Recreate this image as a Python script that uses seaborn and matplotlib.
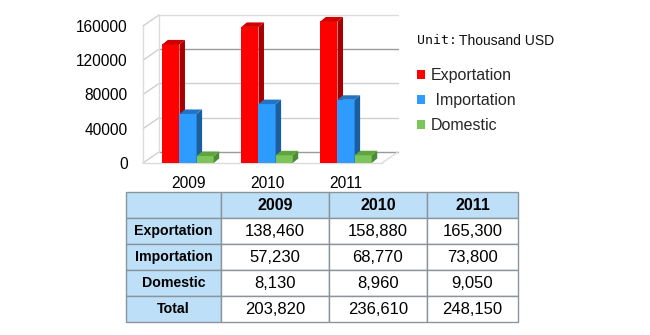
import matplotlib
matplotlib.use("Agg")
import matplotlib.pyplot as plt
import matplotlib.transforms as mtransforms
from matplotlib.patches import Polygon, Patch
import seaborn as sns
import pandas as pd

# ---- data ----
years = ["2009", "2010", "2011"]
series = ["Exportation", "Importation", "Domestic"]
exportation = [138460, 158880, 165300]
importation = [57230, 68770, 73800]
domestic = [8130, 8960, 9050]
total = [203820, 236610, 248150]
yticks = [0, 40000, 80000, 120000, 160000]
unit_label = "Thousand USD"
legend_labels = ["Exportation", " Importation", "Domestic"]

front_colors = ["#ff0000", "#2e9bff", "#7dc45a"]
side_colors = ["#a80000", "#1a5e9e", "#4f8a34"]
top_colors = ["#d00000", "#2274c4", "#5fa43e"]

sns.set_theme(style="white")
plt.rcParams["font.family"] = ["Liberation Sans", "DejaVu Sans"]

df = pd.DataFrame({
    "Year": years * 3,
    "Series": [s for s in series for _ in years],
    "Value": exportation + importation + domestic,
})

W, H = 650, 335
fig = plt.figure(figsize=(6.5, 3.35), dpi=100)

def px_axes(l, t, r, b):
    return fig.add_axes([l / W, 1 - b / H, (r - l) / W, (b - t) / H])

# chart axes (front plane)
ax = px_axes(143, 17.4, 382, 163)
sns.barplot(data=df, x="Year", y="Value", hue="Series", hue_order=series,
            palette=front_colors, saturation=1, width=0.65, ax=ax,
            legend=False, errorbar=None)
ax.set_ylim(0, 170000)
ax.set_xlim(-0.57, 2.455)
for s in ax.spines.values():
    s.set_visible(False)
ax.set_xlabel("")
ax.set_ylabel("")
ax.set_yticks(yticks)
ax.set_yticklabels([str(v) for v in yticks])
ax.tick_params(axis="y", length=0, pad=11, labelsize=11.2, colors="black")
ax.tick_params(axis="x", length=0, pad=9, labelsize=11.2, colors="black")
ax.grid(False)

# back wall transform (depth offset)
back = mtransforms.offset_copy(ax.transData, fig=fig, x=16, y=11, units="dots")
xl, xr = ax.get_xlim()
grid_cols = ["#9a9a9a", "#d0d0d0", "#d0d0d0", "#9a9a9a", "#dcdcdc"]
for v, c in zip(yticks, grid_cols):
    ax.plot([xl, xr], [v, v], transform=back, color=c, lw=1, clip_on=False, zorder=0)
    (x0, y0) = ax.transData.transform((xl, v))
    (x1, y1) = back.transform((xl, v))
    ax.plot([x0, x1], [y0, y1], transform=None, color="#d0d0d0", lw=1, clip_on=False, zorder=0)
ax.plot([xl, xl], [0, 160000], transform=back, color="#dcdcdc", lw=1, clip_on=False, zorder=0)
ax.plot([xl, xl], [0, 160000], color="#dcdcdc", lw=1, clip_on=False, zorder=0)
ax.plot([xl, xr], [0, 0], color="#dcdcdc", lw=1, clip_on=False, zorder=0)
(x0, y0) = ax.transData.transform((xr, 0))
(x1, y1) = back.transform((xr, 0))
ax.plot([x0, x1], [y0, y1], transform=None, color="#dcdcdc", lw=1, clip_on=False, zorder=0)

# 3D faces for bars
ddx, ddy = 5.5, 4.5  # depth in pixels
nb = len(years)
for i, p in enumerate(ax.patches):
    si = i // nb
    p.set_zorder(3 + si * 2)
    p.set_edgecolor("none")
    x, y = p.get_x(), p.get_y()
    w, h = p.get_width(), p.get_height()
    pts = ax.transData.transform([(x, y), (x + w, y), (x + w, y + h), (x, y + h)])
    (bl, br, tr, tl) = pts
    side = [br, br + (ddx, ddy), tr + (ddx, ddy), tr]
    top = [tl, tr, tr + (ddx, ddy), tl + (ddx, ddy)]
    ax.add_patch(Polygon(side, closed=True, transform=None, facecolor=side_colors[si],
                         edgecolor="none", zorder=3 + si * 2, clip_on=False))
    ax.add_patch(Polygon(top, closed=True, transform=None, facecolor=top_colors[si],
                         edgecolor="none", zorder=3 + si * 2, clip_on=False))

# unit text
fig.text(417 / W, 1 - 41 / H, "Unit:", family="DejaVu Sans Mono", fontsize=9.5,
         va="center", ha="left", color="#111111")
fig.text(459 / W, 1 - 41 / H, unit_label, fontsize=10, va="center", ha="left",
         color="#111111")

# legend
handles = [Patch(facecolor=c, edgecolor="none") for c in front_colors]
fig.legend(handles, legend_labels, loc="upper left",
           bbox_to_anchor=(417 / W, 1 - 68 / H), frameon=False, fontsize=11.5,
           handlelength=0.5, handleheight=0.5, handletextpad=0.35,
           labelspacing=0.62, borderaxespad=0, borderpad=0)

# table
tax = px_axes(126, 192, 518, 322)
tax.axis("off")
cell_text = [[""] + years]
for name, vals in zip(series + ["Total"], [exportation, importation, domestic, total]):
    cell_text.append([name] + [f"{v:,}" for v in vals])
cw = [95, 108, 98, 91]
cw = [c / sum(cw) for c in cw]
tbl = tax.table(cellText=cell_text, cellLoc="center", colWidths=cw, bbox=[0, 0, 1, 1])
tbl.auto_set_font_size(False)
for (r, c), cell in tbl.get_celld().items():
    cell.set_edgecolor("#8a949c")
    cell.set_linewidth(1)
    txt = cell.get_text()
    if r == 0 or c == 0:
        cell.set_facecolor("#bde0f8")
        txt.set_fontweight("bold")
        txt.set_fontsize(11.5 if r == 0 else 10.2)
    else:
        cell.set_facecolor("white")
        txt.set_fontsize(12)
    txt.set_color("black")

fig.savefig("out.png", dpi=100)
